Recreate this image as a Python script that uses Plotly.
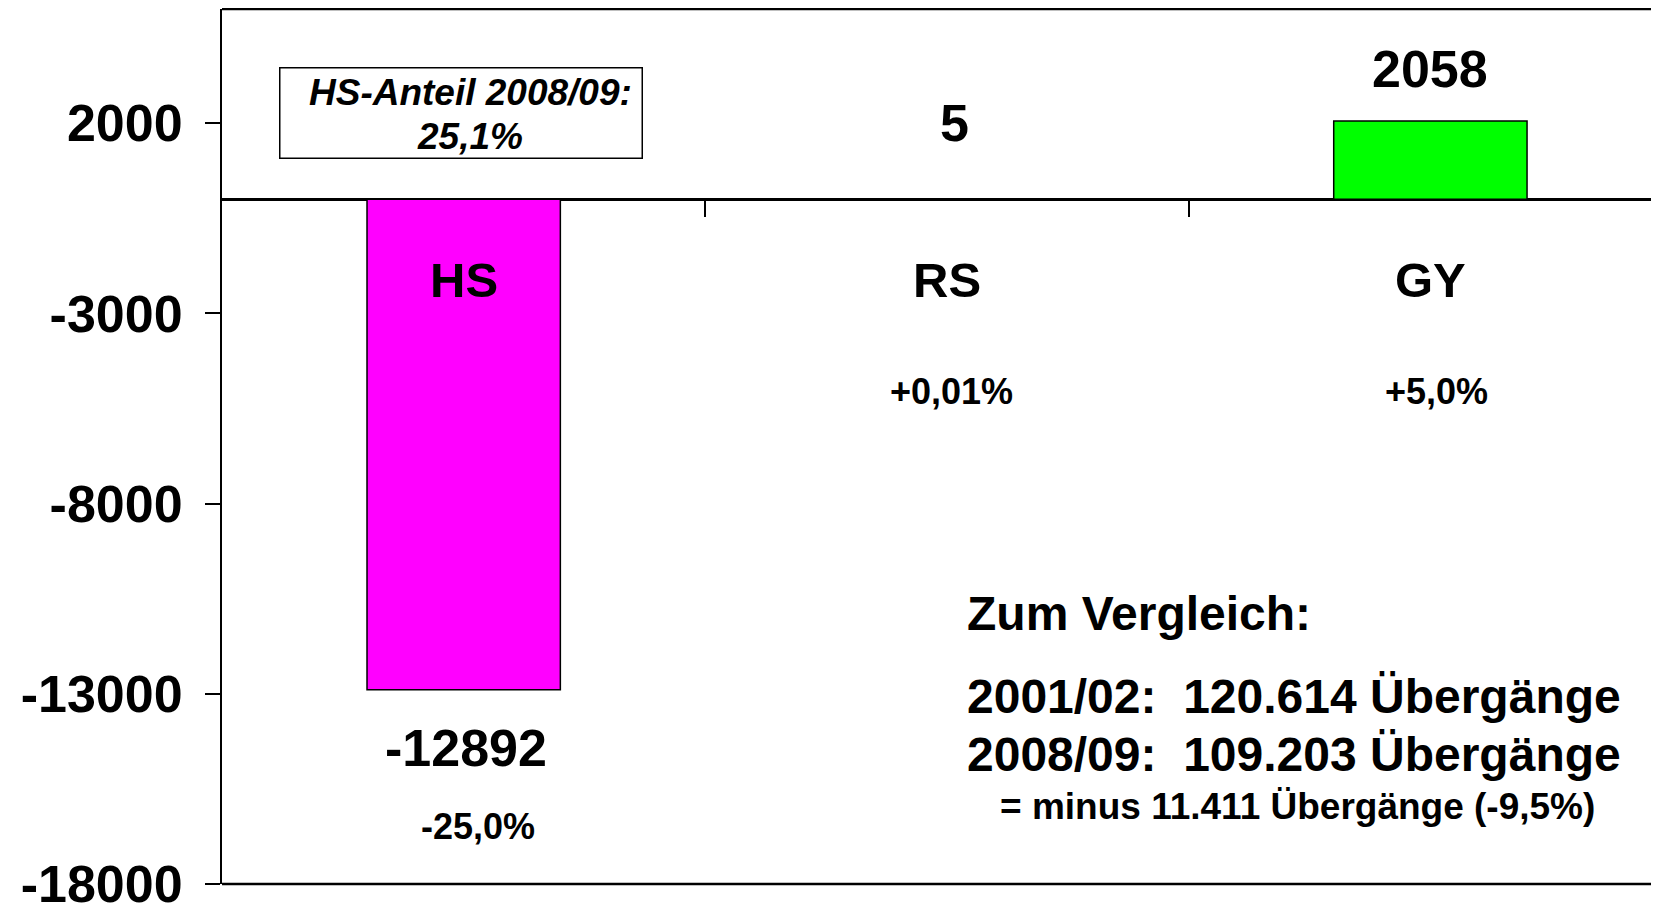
import plotly.graph_objects as go

# ---- data ----
categories = ["HS", "RS", "GY"]
values = [-12892, 5, 2058]
value_labels = ["-12892", "5", "2058"]
pct_labels = ["-25,0%", "+0,01%", "+5,0%"]
bar_colors = ["#FF00FF", "#FFFF00", "#00FF00"]
y_tickvals = [2000, -3000, -8000, -13000, -18000]
y_ticktext = ["2000", "-3000", "-8000", "-13000", "-18000"]
box_lines = ["HS-Anteil 2008/09:", "25,1%"]
note_title = "Zum Vergleich:"
note_lines = ["2001/02:\u00a0\u00a0120.614 Übergänge",
              "2008/09:\u00a0\u00a0109.203 Übergänge"]
note_sub = "= minus 11.411 Übergänge (-9,5%)"

# ---- layout geometry ----
OFF = 8                      # page body margin of the html output
W, H = 1659 - OFF, 907 - OFF
PL, PT, PB = 222, 8, 884     # plot edges in page pixels
L, T, R = PL - OFF, PT - OFF + 1, 0
B = H - (PB - OFF)
YMIN, YMAX = -18000, 5000
XMIN, XMAX = -0.5, 2.473
pw, ph = W - L - R, H - T - B

def px(x):  # page pixel -> paper x
    return (x - OFF - L) / pw

def py(y):  # page pixel -> paper y
    return (H - B - (y - OFF)) / ph

FONT = "Arial, 'Liberation Sans', sans-serif"

xs = list(range(len(categories)))

fig = go.Figure()
fig.add_trace(go.Bar(
    x=xs, y=values, width=0.4,
    marker=dict(color=bar_colors, line=dict(color="black", width=1.5)),
    hoverinfo="skip", showlegend=False,
))

ann = []
# value labels tied to bar values
val_shift = [-58, 76, 52]
val_xshift = [2, 7, 0]
for i, (v, t) in enumerate(zip(values, value_labels)):
    ann.append(dict(x=xs[i], y=v, xref="x", yref="y", text=t, showarrow=False,
                    xanchor="center", yanchor="middle", yshift=val_shift[i], xshift=val_xshift[i],
                    font=dict(family=FONT, size=52, color="black", weight="bold")))
# category labels
for i, c in enumerate(categories):
    ann.append(dict(x=xs[i], y=py(280), xref="x", yref="paper", text=c, showarrow=False,
                    xanchor="center", yanchor="middle",
                    font=dict(family=FONT, size=49, color="black", weight="bold")))
# percentage labels
pct_y = [826, 391, 391]
pct_xshift = [14, 4, 6]
for i, p in enumerate(pct_labels):
    ann.append(dict(x=xs[i], y=py(pct_y[i]), xref="x", yref="paper", text=p, showarrow=False,
                    xanchor="center", yanchor="middle", xshift=pct_xshift[i],
                    font=dict(family=FONT, size=36, color="black", weight="bold")))
# box
ann.append(dict(x=px(279), y=py(67), xref="paper", yref="paper", text=" ", showarrow=False,
                xanchor="left", yanchor="top", width=361, height=89,
                bordercolor="black", borderwidth=1.5, borderpad=0,
                font=dict(family=FONT, size=10)))
box_y = [92, 137]
for t, yy in zip(box_lines, box_y):
    ann.append(dict(x=px(470), y=py(yy), xref="paper", yref="paper", text=t, showarrow=False,
                    xanchor="center", yanchor="middle",
                    font=dict(family=FONT, size=37, color="black", weight="bold", style="italic")))
# note block
ann.append(dict(x=px(965), y=py(613), xref="paper", yref="paper", text=note_title, showarrow=False,
                xanchor="left", yanchor="middle",
                font=dict(family=FONT, size=48, color="black", weight="bold")))
for t, yy in zip(note_lines, [696, 754]):
    ann.append(dict(x=px(965), y=py(yy), xref="paper", yref="paper", text=t, showarrow=False,
                    xanchor="left", yanchor="middle",
                    font=dict(family=FONT, size=48, color="black", weight="bold")))
ann.append(dict(x=px(998), y=py(806), xref="paper", yref="paper", text=note_sub, showarrow=False,
                xanchor="left", yanchor="middle",
                font=dict(family=FONT, size=37, color="black", weight="bold")))

zero_pos = (0 - YMIN) / (YMAX - YMIN)

fig.update_layout(
    width=W, height=H,
    margin=dict(l=L, r=R, t=T, b=B, pad=0, autoexpand=False),
    paper_bgcolor="white", plot_bgcolor="white",
    showlegend=False,
    annotations=ann,
    xaxis=dict(range=[XMIN, XMAX], anchor="free", position=zero_pos, automargin=False,
               showgrid=False, zeroline=False, showline=False,
               tickvals=[0.5, 1.5], ticks="outside", ticklen=17, tickwidth=1.5,
               tickcolor="black", showticklabels=False, fixedrange=True),
    yaxis=dict(range=[YMIN, YMAX], showgrid=False, automargin=False,
               zeroline=True, zerolinecolor="black", zerolinewidth=2.5,
               showline=True, linecolor="black", linewidth=2,
               tickvals=y_tickvals, ticktext=y_ticktext,
               ticks="outside", ticklen=15, tickwidth=1.5, tickcolor="black",
               ticklabelstandoff=12, ticklabeloverflow="allow",
               tickfont=dict(family=FONT, size=52, color="black", weight="bold"),
               fixedrange=True),
    shapes=[
        dict(type="line", xref="paper", yref="paper", x0=0, x1=1, y0=1, y1=1,
             line=dict(color="black", width=2.5)),
        dict(type="line", xref="paper", yref="paper", x0=0, x1=1, y0=0, y1=0,
             line=dict(color="black", width=2.5)),
    ],
)

fig.write_html("out.html", config={"displayModeBar": False})
